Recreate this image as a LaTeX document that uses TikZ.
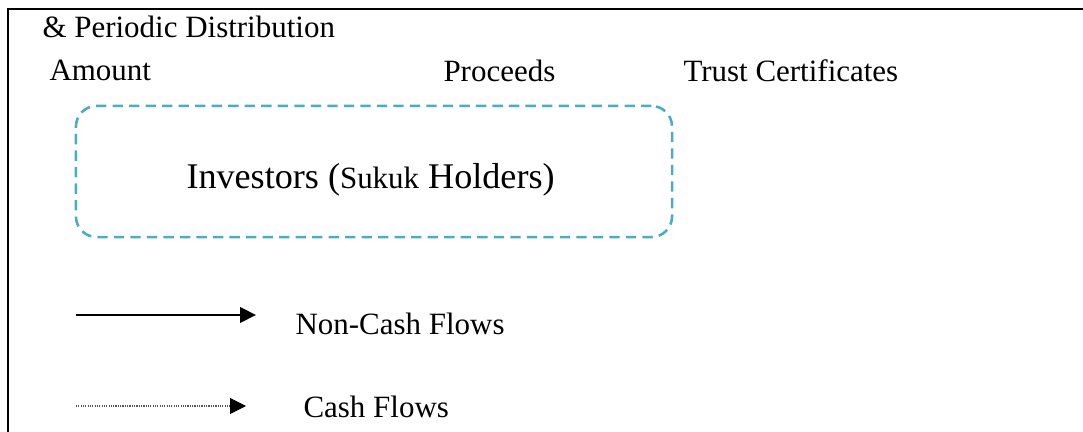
\documentclass[tikz,border=0pt]{standalone}
\usepackage{fontspec}
\setmainfont{Liberation Serif}
\usetikzlibrary{arrows.meta}
\definecolor{dashblue}{HTML}{4BACC6}
\definecolor{dotgray}{HTML}{555555}
\begin{document}
\begin{tikzpicture}[x=0.3875pt,y=-0.3875pt,
  lbl/.style={inner sep=0pt,anchor=base west,font=\fontsize{12}{14}\selectfont},
  biglbl/.style={inner sep=0pt,anchor=base west,font=\fontsize{14}{16}\selectfont},
  frameline/.style={line width=1pt,line cap=rect},
  investorbox/.style={draw=dashblue,line width=1pt,dash pattern=on 4pt off 2.4pt,
    rounded corners=8pt,minimum width=231pt,minimum height=50.8pt,inner sep=0pt},
  noncash/.style={line width=0.85pt,-{Triangle[length=6.2pt,width=6pt]}},
  cash/.style={draw=dotgray,line width=0.4pt,dash pattern=on 0.45pt off 0.45pt,
    -{Triangle[length=6.2pt,width=6.2pt,fill=black,color=black]}}
]
\useasboundingbox (0,0) rectangle (1083,432);
% frame
\coordinate (ftl) at (8,9);
\coordinate (ftr) at (1083,9);
\coordinate (fbl) at (8,432);
\draw[frameline] (ftr) -- (ftl) -- (fbl);
% top labels
\node[lbl] (dist) at (42,38) {\& Periodic Distribution};
\node[lbl] (amount) at (49,81) {Amount};
\node[lbl] (proceeds) at (443,82) {Proceeds};
\node[lbl] (trust) at (683,82) {Trust Certificates};
% investors box
\node[investorbox] (inv) at (374,171.5) {};
\node[biglbl] (invtxt) at (186,189) {Investors ({\fontsize{12}{14}\selectfont Sukuk} Holders)};
% legend
\coordinate (nca) at (76,315);
\coordinate (ncb) at (256,315);
\draw[noncash] (nca) -- (ncb);
\node[lbl] (nclbl) at (295,335) {Non-Cash Flows};
\coordinate (ca) at (76,406);
\coordinate (cb) at (246,406);
\draw[cash] (ca) -- (cb);
\node[lbl] (clbl) at (303,418) {Cash Flows};
\end{tikzpicture}
\end{document}
